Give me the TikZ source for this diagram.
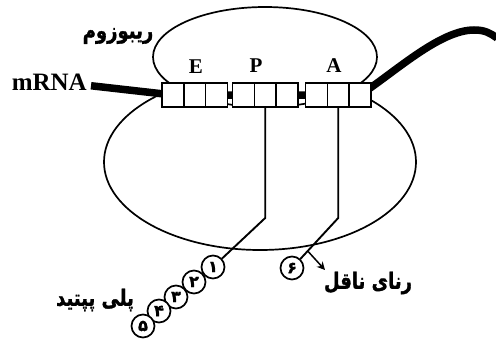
\documentclass[tikz,border=0pt]{standalone}
\usepackage{fontspec}
\setmainfont{Liberation Serif}
\newfontfamily\fafont[Script=Arabic, FakeBold=1.5]{DejaVu Sans Bold}
\TeXXeTstate=1
\usetikzlibrary{shapes.geometric,arrows.meta,calc}
\newcommand{\fatext}[1]{\scalebox{1}[1.25]{\beginR #1\endR}}
\tikzset{
  subunit/.style={draw, ellipse, line width=1.7pt, inner sep=0pt},
  codon/.style={draw, fill=white, line width=1.6pt, minimum width=21.8pt,
    minimum height=24pt, inner sep=0pt, outer sep=0pt},
  site/.style={font=\bfseries\fontsize{21}{21}\selectfont},
  falabel/.style={font=\fafont\fontsize{18}{18}\selectfont, inner sep=0pt},
  aminoacid/.style={draw, circle, fill=white, line width=1.7pt, minimum size=23pt,
    inner sep=0pt, font=\fafont\fontsize{16}{16}\selectfont},
  strand/.style={line width=1.9pt},
  rna/.style={line width=7.5pt},
}
\begin{document}
\begin{tikzpicture}[x=1pt,y=-1pt]
\useasboundingbox (0,0) rectangle (496,340);

% ribosome: large and small subunits
\node[subunit, minimum width=312pt, minimum height=176pt] (large) at (260,162) {};
\node[subunit, fill=white, minimum width=224pt, minimum height=100pt] (small) at (265,57) {};

% codon box centres of the E, P and A sites
\foreach \g/\x in {e/162, p/232.5, a/305.5}
  \foreach \i in {1,2,3}
    \coordinate (\g\i) at ({\x+10.9+21.8*(\i-1)},95);

% mRNA strand
\node[font=\bfseries\fontsize{25}{25}\selectfont, anchor=base east, inner sep=0pt] (mrna) at (87,90) {mRNA};
\coordinate (rnaend) at (497,38);
\draw[rna] ([xshift=4pt,yshift=-4pt]mrna.east) -- (e1) -- (a3)
  .. controls (395,72) and (440,30) .. (474,30)
  .. controls (485,30) and (490,33) .. (rnaend);

\foreach \g/\x in {e/162, p/232.5, a/305.5}
  \foreach \i in {1,2,3}
    \node[codon] (\g\i) at ({\x+10.9+21.8*(\i-1)},95) {};

% site letters
\node[site, anchor=base] (esite) at (196,73) {E};
\node[site, anchor=base] (psite) at (256,72) {P};
\node[site, anchor=base] (asite) at (334,72) {A};

% tRNA stems down to the amino acids
\path (p2.south) ++(0,111) coordinate (pbend);
\path (a2.south) ++(0,111) coordinate (abend);

\node[aminoacid] (c1) at (213,267) {۱};
\node[aminoacid] (c2) at (194,282) {۲};
\node[aminoacid] (c3) at (176,297) {۳};
\node[aminoacid] (c4) at (159,311) {۴};
\node[aminoacid] (c5) at (143,326) {۵};
\node[aminoacid] (c6) at (292,268) {۶};

\draw[strand] (p2.south) -- (pbend) -- (c1);
\draw[strand] (a2.south) -- (abend) -- (c6);

\coordinate (tstart) at ($(abend)!0.66!(c6)$);
\coordinate (tend) at (325,270);
\draw[line width=1.5pt, -{Stealth[length=8pt,width=8pt]}] (tstart) -- (tend);

% Persian labels
\node[falabel] (ribosome) at (118,36) {\fatext{ریبوزوم}};
\node[falabel] (peptide) at (95,300) {\fatext{پلی پپتید}};
\node[falabel] (trna) at (368,283) {\fatext{رنای ناقل}};
\end{tikzpicture}
\end{document}
